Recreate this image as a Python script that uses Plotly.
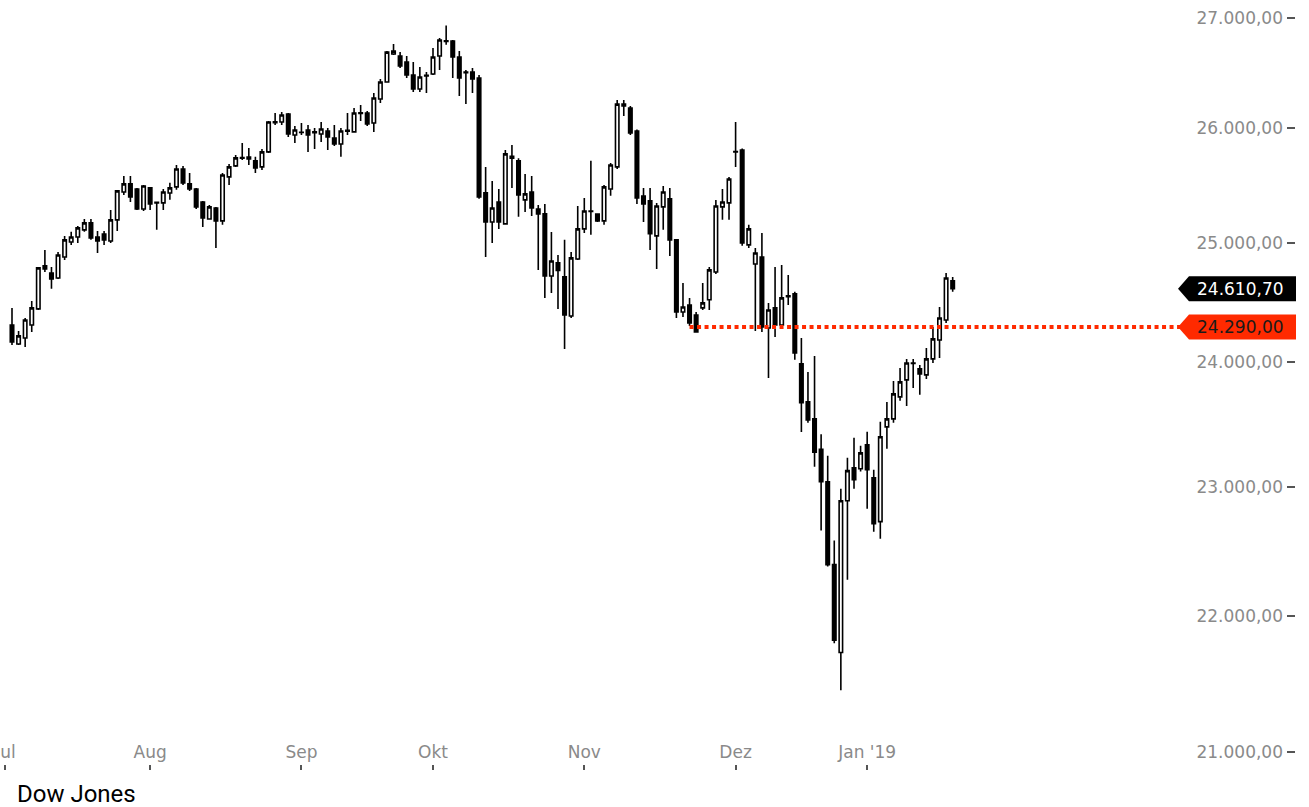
import math
import pandas as pd
import plotly.graph_objects as go

# ---------------- data ----------------
# trading sessions (CFD style: incl. Jul 4, Sep 3, Nov 22, Dec 5, a short Sunday Nov 4 bar)
_days = pd.bdate_range("2018-07-03", "2019-01-21")
_days = [d for d in _days if d.strftime("%Y-%m-%d") not in ("2018-12-25", "2019-01-01")]
_days.append(pd.Timestamp("2018-11-04"))
dates = sorted(d.strftime("%Y-%m-%d") for d in _days)

open_ = [24308, 24150, 24200, 24308, 24442, 24804, 24744, 24702, 24880, 25008,
         25051, 25112, 25172, 25051, 25077, 25017, 25198, 25440, 25510, 25466,
         25292, 25475, 25350, 25345, 25431, 25484, 25641, 25510, 25466, 25353,
         25206, 25301, 25189, 25571, 25668, 25735, 25745, 25712, 25659, 25791,
         26050, 26056, 26127, 25941, 25965, 25985, 25960, 25949, 25976, 25914,
         25861, 25975, 25968, 26133, 26136, 26047, 26262, 26415, 26669, 26651,
         26596, 26478, 26352, 26475, 26488, 26651, 26790, 26789, 26642, 26505,
         26505, 26451, 25432, 25180, 25353, 25163, 25752, 25712, 25371, 25440,
         25292, 25250, 24719, 24830, 24711, 24383, 24863, 25120, 25270, 25249,
         25189, 25466, 25659, 26216, 26181, 25976, 25405, 25362, 25060, 25310,
         25380, 25026, 24416, 24475, 24391, 24450, 24518, 24753, 25310, 25345,
         25795, 25808, 24983, 24820, 24880, 24283, 24450, 24308, 24545, 24568,
         23986, 23677, 23539, 23296, 23038, 22394, 21731, 22889, 23149, 23141,
         23331, 23070, 22726, 23475, 23539, 23717, 23855, 23990, 23945, 23896,
         24027, 24183, 24349, 24677]

high = [24450, 24258, 24366, 24509, 24795, 24940, 24795, 24923, 25060, 25095,
        25146, 25206, 25206, 25103, 25103, 25284, 25457, 25580, 25580, 25475,
        25501, 25484, 25355, 25466, 25519, 25676, 25667, 25606, 25475, 25362,
        25327, 25310, 25606, 25685, 25764, 25869, 25826, 25747, 25817, 26065,
        26136, 26145, 26136, 26021, 26047, 26030, 26003, 26056, 26003, 26030,
        26003, 26136, 26181, 26207, 26154, 26316, 26442, 26696, 26760, 26687,
        26651, 26596, 26551, 26505, 26724, 26816, 26930, 26798, 26696, 26524,
        26542, 26478, 25659, 25536, 25466, 25808, 25852, 25735, 25597, 25580,
        25327, 25336, 25094, 24897, 25026, 24923, 25318, 25388, 25712, 25255,
        25501, 25694, 26252, 26252, 26200, 25990, 25475, 25475, 25344, 25492,
        25475, 25030, 24660, 24534, 24416, 24660, 24795, 25370, 25466, 25571,
        26056, 25820, 25155, 24957, 25086, 24492, 24795, 24812, 24727, 24585,
        24200, 23920, 24051, 23415, 23244, 22580, 22983, 23228, 23387, 23323,
        23436, 23133, 23515, 23676, 23847, 23953, 24027, 24027, 23978, 24117,
        24291, 24458, 24744, 24710]

low = [24142, 24142, 24125, 24250, 24433, 24753, 24610, 24693, 24855, 24983,
       25000, 25095, 25026, 24914, 24983, 25000, 25103, 25414, 25353, 25284,
       25275, 25284, 25112, 25284, 25371, 25458, 25501, 25449, 25292, 25137,
       25198, 24957, 25155, 25501, 25659, 25720, 25676, 25606, 25632, 25782,
       26030, 26030, 25922, 25870, 25941, 25791, 25817, 25878, 25808, 25843,
       25747, 25941, 25960, 26065, 26021, 25968, 26226, 26410, 26660, 26542,
       26451, 26325, 26325, 26316, 26478, 26524, 26754, 26451, 26289, 26217,
       26316, 25380, 24880, 25000, 25120, 25155, 25475, 25224, 25266, 25232,
       24770, 24534, 24576, 24442, 24108, 24366, 24855, 25086, 25069, 25180,
       25155, 25406, 25640, 26110, 25940, 25336, 25180, 24940, 24778, 25112,
       24888, 24366, 24374, 24300, 24245, 24433, 24433, 24736, 25198, 25198,
       25659, 24975, 24957, 24258, 24250, 23871, 24208, 24290, 24475, 24020,
       23433, 23507, 23157, 22656, 22380, 21800, 21451, 22279, 22983, 23118,
       22826, 22648, 22594, 23299, 23507, 23685, 23644, 23790, 23734, 23863,
       23994, 24035, 24325, 24585]

close = [24167, 24217, 24349, 24450, 24787, 24778, 24693, 24897, 25026, 25051,
         25129, 25172, 25043, 25017, 25026, 25198, 25449, 25510, 25397, 25292,
         25492, 25336, 25345, 25440, 25475, 25641, 25519, 25466, 25310, 25215,
         25310, 25189, 25588, 25659, 25738, 25742, 25729, 25650, 25791, 26056,
         26058, 26118, 25949, 25985, 25962, 25941, 25968, 25994, 25923, 25861,
         25976, 25982, 26136, 26138, 26038, 26271, 26415, 26687, 26696, 26560,
         26478, 26352, 26460, 26470, 26642, 26798, 26785, 26642, 26451, 26500,
         26442, 25396, 25180, 25301, 25180, 25773, 25735, 25414, 25423, 25301,
         25250, 24719, 24846, 24765, 24391, 24872, 25120, 25275, 25275, 25189,
         25484, 25676, 26216, 26200, 25958, 25388, 25336, 25078, 25318, 25440,
         25026, 24416, 24458, 24324, 24250, 24492, 24770, 25318, 25353, 25553,
         25790, 25000, 25120, 24914, 24291, 24433, 24308, 24534, 24552, 24076,
         23669, 23531, 23272, 23038, 22394, 21822, 22889, 23126, 23055, 23267,
         23133, 22710, 23395, 23539, 23741, 23839, 23994, 23994, 23904, 24027,
         24192, 24366, 24702, 24610.7]

month_starts = ["2018-07-02", "2018-08-01", "2018-09-03", "2018-10-01",
                "2018-11-01", "2018-12-03", "2019-01-02"]
month_labels = ["Jul", "Aug", "Sep", "Okt", "Nov", "Dez", "Jan '19"]

y_ticks = [21000, 22000, 23000, 24000, 25000, 26000, 27000]
y_tick_text = ["21.000,00", "22.000,00", "23.000,00", "24.000,00",
               "25.000,00", "26.000,00", "27.000,00"]

last_price = 24610.70
support_level = 24290.00
support_start = "2018-11-22"
title_text = "Dow Jones"


def de_fmt(v):
    s = f"{v:,.2f}"
    return s.replace(",", "X").replace(".", ",").replace("X", ".")


categories = ["2018-07-02"] + dates
x_range = [-0.824, 194.67]

TICK_FONT = dict(family="DejaVu Sans", size=17, color="#8a8a8a")

fig = go.Figure()
fig.add_trace(go.Candlestick(
    x=dates, open=open_, high=high, low=low, close=close,
    increasing=dict(line=dict(color="black", width=1.6), fillcolor="white"),
    decreasing=dict(line=dict(color="black", width=1.6), fillcolor="black"),
    whiskerwidth=0, showlegend=False, hoverinfo="skip",
))

RED = "#ff2a00"
fig.add_shape(type="line", xref="x", yref="y",
              x0=support_start, x1=x_range[1], y0=support_level, y1=support_level,
              line=dict(color=RED, width=4, dash="4px,3.5px"), layer="above")

badge_path = "M-108,0 L-97,12.5 L10,12.5 L10,-12.5 L-97,-12.5 Z"
for val, col in [(last_price, "black"), (support_level, RED)]:
    fig.add_shape(type="path", xref="paper", yref="y",
                  xsizemode="pixel", ysizemode="pixel",
                  xanchor=1, yanchor=val, path=badge_path,
                  fillcolor=col, line=dict(width=0), layer="above")

fig.add_annotation(xref="paper", yref="y", x=1, y=math.log10(last_price),
                   xanchor="right", yanchor="middle", xshift=0,
                   text=de_fmt(last_price), showarrow=False,
                   font=dict(family="DejaVu Sans", size=17, color="white"))
fig.add_annotation(xref="paper", yref="y", x=1, y=math.log10(support_level),
                   xanchor="right", yanchor="middle", xshift=0,
                   text=de_fmt(support_level), showarrow=False,
                   font=dict(family="DejaVu Sans", size=17, color="#1a1a1a"))

fig.add_annotation(xref="paper", yref="paper", x=0, y=0, xanchor="left",
                   yanchor="top", xshift=15, yshift=-14, text=title_text,
                   showarrow=False,
                   font=dict(family="Roboto", size=24, color="black"))

fig.update_layout(
    width=1309, height=807,
    margin=dict(l=0, r=23, t=0, b=43, autoexpand=False),
    paper_bgcolor="white", plot_bgcolor="white",
    font=TICK_FONT,
    boxgap=0.25,
    xaxis=dict(type="category", categoryorder="array", categoryarray=categories,
               range=x_range, rangeslider=dict(visible=False), automargin=False,
               tickmode="array", tickvals=month_starts, ticktext=month_labels,
               ticks="outside", ticklen=5, tickwidth=1.5, tickcolor="#555",
               ticklabelposition="inside", ticklabeloverflow="allow",
               showgrid=False, zeroline=False, showline=False,
               tickfont=TICK_FONT),
    yaxis=dict(type="log", side="right", automargin=False,
               range=[math.log10(20917), 4.43404],
               tickmode="array", tickvals=y_ticks, ticktext=y_tick_text,
               ticks="outside", ticklen=8, tickwidth=1.5, tickcolor="#555",
               ticklabelposition="inside", ticklabeloverflow="allow",
               showgrid=False, zeroline=False, showline=False,
               tickfont=TICK_FONT),
)

fig.write_html("out.html",
               config={"displayModeBar": False},
               post_script="document.body.style.margin='0px';"
                           "document.body.style.overflow='hidden';")
